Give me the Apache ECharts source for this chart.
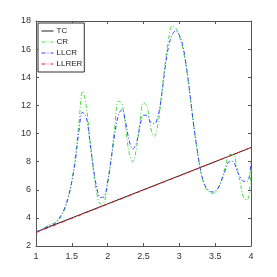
<!DOCTYPE html>
<html><head><meta charset="utf-8">
<script src="https://cdn.jsdelivr.net/npm/echarts@6/dist/echarts.min.js"></script>
<style>html,body{margin:0;padding:0;background:#fff}#c{width:277px;height:277px}</style>
</head><body><div id="c"></div>
<script>
var xs = [1.00,1.05,1.10,1.15,1.20,1.25,1.30,1.35,1.40,1.45,1.50,1.55,1.60,1.65,1.70,1.75,1.80,1.85,1.90,1.95,2.00,2.05,2.10,2.15,2.20,2.25,2.30,2.35,2.40,2.45,2.50,2.55,2.60,2.65,2.70,2.75,2.80,2.85,2.90,2.95,3.00,3.05,3.10,3.15,3.20,3.25,3.30,3.35,3.40,3.45,3.50,3.55,3.60,3.65,3.70,3.75,3.80,3.85,3.90,3.95,4.00];
var crVals = [3.0,3.1,3.25,3.4,3.55,3.6,3.75,4.1,4.6,5.4,6.6,8.4,10.8,13.0,12.0,9.7,7.4,5.7,5.0,5.1,6.4,8.3,10.5,12.3,12.1,10.5,8.6,8.0,8.9,10.8,12.2,11.9,10.4,9.8,10.6,12.7,14.9,16.7,17.65,17.5,16.9,16.0,14.6,12.7,10.6,8.8,7.3,6.3,5.9,5.75,5.8,6.2,6.9,7.8,8.5,8.5,7.7,6.5,5.4,5.3,7.6];
var llcrVals = [3.0,3.1,3.2,3.35,3.45,3.55,3.8,4.2,4.7,5.5,6.6,8.1,10.2,11.5,11.2,9.5,7.6,6.1,5.45,5.5,6.6,8.2,10.0,11.3,11.7,10.8,9.5,8.9,9.3,10.5,11.3,11.3,10.8,10.7,11.2,12.6,14.6,16.2,17.0,17.3,17.0,16.2,14.7,12.7,10.6,8.8,7.3,6.4,6.0,5.85,5.9,6.2,6.8,7.5,8.0,8.0,7.4,6.9,6.6,6.6,8.0];
var lineX = [1, 2, 3, 4];
var tcVals = [3, 5, 7, 9];
var llrerVals = [2.95, 4.97, 6.98, 9.0];
var xTicks = [1, 1.5, 2, 2.5, 3, 3.5, 4];
var yTicks = [2, 4, 6, 8, 10, 12, 14, 16, 18];

function pairs(a, b) { return a.map(function (v, i) { return [v, b[i]]; }); }
var FONT = "'Liberation Sans Narrow','Liberation Sans',sans-serif";
var axisCol = '#555';
var dashDot = [4, 2, 1, 2];
var chart = echarts.init(document.getElementById('c'), null, {renderer: 'canvas'});
var baseX = {
  type: 'value', min: 1, max: 4, interval: 0.5,
  axisLine: {show: true, onZero: false, lineStyle: {color: axisCol, width: 1}},
  axisTick: {show: true, inside: true, length: 3, lineStyle: {color: axisCol}},
  splitLine: {show: false}
};
var baseY = {
  type: 'value', min: 2, max: 18, interval: 2,
  axisLine: {show: true, onZero: false, lineStyle: {color: axisCol, width: 1}},
  axisTick: {show: true, inside: true, length: 3, lineStyle: {color: axisCol}},
  splitLine: {show: false}
};
chart.setOption({
  animation: false,
  backgroundColor: '#fff',
  grid: {left: 36, right: 26, top: 21, bottom: 31, containLabel: false},
  xAxis: [
    Object.assign({}, baseX, {position: 'bottom',
      axisLabel: {show: true, fontFamily: FONT, fontSize: 9, color: '#333', margin: 6,
        formatter: function (v) { return xTicks.indexOf(v) >= 0 ? String(v) : ''; }}}),
    Object.assign({}, baseX, {position: 'top', axisLabel: {show: false}})
  ],
  yAxis: [
    Object.assign({}, baseY, {position: 'left',
      axisLabel: {show: true, fontFamily: FONT, fontSize: 9, color: '#333', margin: 5,
        formatter: function (v) { return yTicks.indexOf(v) >= 0 ? String(v) : ''; }}}),
    Object.assign({}, baseY, {position: 'right', axisLabel: {show: false}})
  ],
  legend: {
    orient: 'vertical', left: 38, top: 23,
    backgroundColor: '#fff', borderColor: '#333', borderWidth: 1, borderRadius: 0,
    padding: [4, 2, 4, 3], itemGap: 3, itemWidth: 12, itemHeight: 8,
    itemStyle: {opacity: 0},
    lineStyle: {width: 1},
    textStyle: {fontFamily: FONT, fontSize: 8, color: '#222', padding: [0, 0, 0, -2]},
    data: ['TC', 'CR', 'LLCR', 'LLRER']
  },
  series: [
    {name: 'TC', type: 'line', data: pairs(lineX, tcVals), symbol: 'none',
      lineStyle: {color: '#222', width: 1}, itemStyle: {color: '#222'}},
    {name: 'CR', type: 'line', data: pairs(xs, crVals), symbol: 'none', smooth: 0.4,
      lineStyle: {color: '#44e044', width: 1, type: dashDot}, itemStyle: {color: '#44e044'}},
    {name: 'LLCR', type: 'line', data: pairs(xs, llcrVals), symbol: 'none', smooth: 0.4,
      lineStyle: {color: '#3344ff', width: 1, type: dashDot}, itemStyle: {color: '#3344ff'}},
    {name: 'LLRER', type: 'line', data: pairs(lineX, llrerVals), symbol: 'none',
      lineStyle: {color: '#ee2222', width: 1, type: dashDot}, itemStyle: {color: '#ee2222'}}
  ]
});
</script></body></html>
